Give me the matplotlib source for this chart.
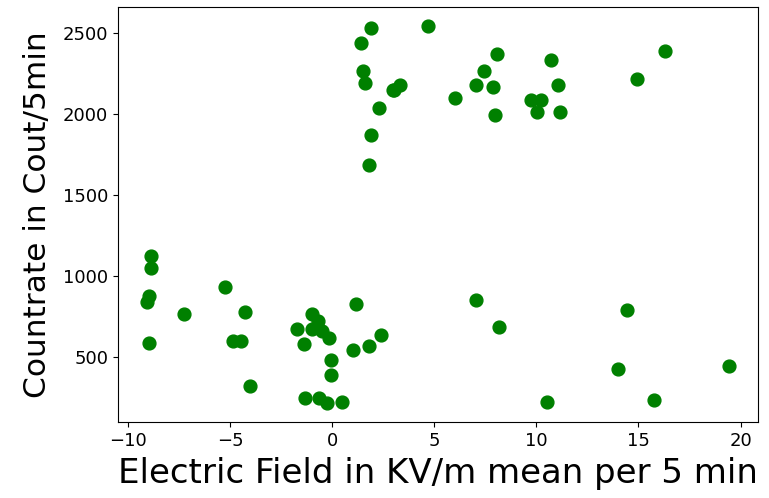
import matplotlib
matplotlib.use("Agg")
import matplotlib.pyplot as plt

# electric field (kV/m, 5 min mean) and count rate per 5 min
field = [1.90, 1.42, 1.52, 1.62, 2.99, 3.04, 3.32, 2.29, 1.90, 1.80,
         4.71, 8.09, 7.42, 7.02, 7.89, 6.01, 7.97, 10.70, 11.08, 9.74,
         10.23, 10.05, 11.16, 14.92, 16.31,
         -8.89, -8.89, -8.98, -9.07, -8.98, -7.27, -5.23, -4.28, -4.84, -4.45,
         -4.01, -1.75, -1.01, -0.72, -1.01, -0.49, -0.16, -1.37, -0.08, -0.08,
         -1.31, -0.65, -0.25, 0.50, 1.14, 1.03, 1.80, 2.37,
         7.02, 8.17, 10.50, 14.43, 13.99, 15.75, 19.43]
counts = [2531, 2438, 2268, 2192, 2147, 2151, 2182, 2039, 1875, 1686,
          2545, 2371, 2264, 2180, 2168, 2098, 1993, 2334, 2180, 2088,
          2090, 2014, 2016, 2217, 2393,
          1126, 1050, 876, 840, 591, 768, 932, 780, 603, 603,
          323, 675, 768, 727, 675, 665, 618, 581, 486, 394,
          251, 251, 218, 228, 827, 546, 569, 640,
          854, 686, 228, 794, 429, 239, 450]

fig = plt.figure(figsize=(7.69, 4.98), dpi=100)
ax = fig.add_axes([0.1534, 0.1526, 0.8323, 0.8333])

ax.scatter(field, counts, s=85, color='green')

ax.set_xticks([-10, -5, 0, 5, 10, 15, 20])
ax.set_yticks([500, 1000, 1500, 2000, 2500])
ax.tick_params(labelsize=13)
ax.set_xlabel('Electric Field in KV/m mean per 5 min', fontsize=24.5, labelpad=5)
ax.set_ylabel('Countrate in Cout/5min', fontsize=22.5, labelpad=8)

fig.savefig('out.png', dpi=100)
